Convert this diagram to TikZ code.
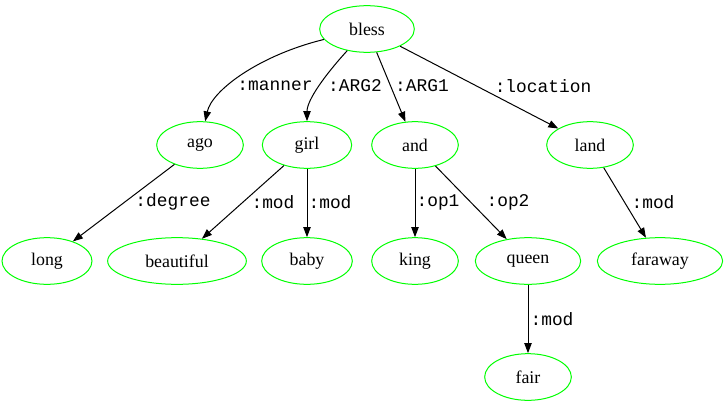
\documentclass[tikz,border=0pt]{standalone}
\usepackage{fontspec}
\setmainfont{Liberation Serif}
\setmonofont{Liberation Mono}
\usetikzlibrary{arrows.meta,shapes.geometric}

\tikzset{
    concept/.style={draw=green, line width=0.75pt, ellipse, inner sep=0pt,
        minimum width=65pt, minimum height=35pt, font=\fontsize{13.4}{16}\selectfont},
    edge/.style={line width=0.75pt, -{Triangle[length=7.5pt,width=5.5pt]}},
    role/.style={inner sep=0pt, font=\ttfamily\fontsize{13.4}{16}\selectfont}
}

\begin{document}
\begin{tikzpicture}[x=0.75pt, y=-0.75pt]
            \useasboundingbox (0, 0) rectangle (728, 407);
            %\draw[lightgray] (0, 0) grid[step=50] (728, 407);
            \node[concept, minimum width=71pt] (bless) at (367, 29) {bless};
            \node[concept] (ago) at (200, 145) {ago};
            \node[concept, minimum width=67pt] (girl) at (307, 145) {girl};
            \node[concept] (and) at (415, 145) {and};
            \node[concept] (land) at (590, 145) {land};
            \node[concept, minimum width=67.5pt] (long) at (47, 261) {long};
            \node[concept, minimum width=104pt] (beautiful) at (177, 261) {beautiful};
            \node[concept, minimum width=68pt] (baby) at (307, 261) {baby};
            \node[concept] (king) at (415, 261) {king};
            \node[concept, minimum width=79pt] (queen) at (528, 261) {queen};
            \node[concept, minimum width=94pt] (faraway) at (660, 261) {faraway};
            \node[concept] (fair) at (528, 377) {fair};
            \draw[edge] (bless) .. controls (260, 55) and (212, 90) .. (ago)
                node[role] at (275, 86) {:manner};
            \draw[edge] (bless) .. controls (325, 75) and (307, 100) .. (girl)
                node[role] at (355, 86) {:ARG2};
            \draw[edge] (bless) -- (and) node[role] at (422, 86) {:ARG1};
            \draw[edge] (bless) -- (land) node[role] at (543, 86) {:location};
            \draw[edge] (ago) -- (long) node[role] at (173, 202) {:degree};
            \draw[edge] (girl) -- (beautiful) node[role] at (273, 202) {:mod};
            \draw[edge] (girl) -- (baby) node[role] at (330, 202) {:mod};
            \draw[edge] (and) -- (king) node[role] at (438, 202) {:op1};
            \draw[edge] (and) -- (queen) node[role] at (508, 202) {:op2};
            \draw[edge] (land) -- (faraway) node[role] at (653, 202) {:mod};
            \draw[edge] (queen) -- (fair) node[role] at (552, 319) {:mod};
        \end{tikzpicture}
\end{document}
